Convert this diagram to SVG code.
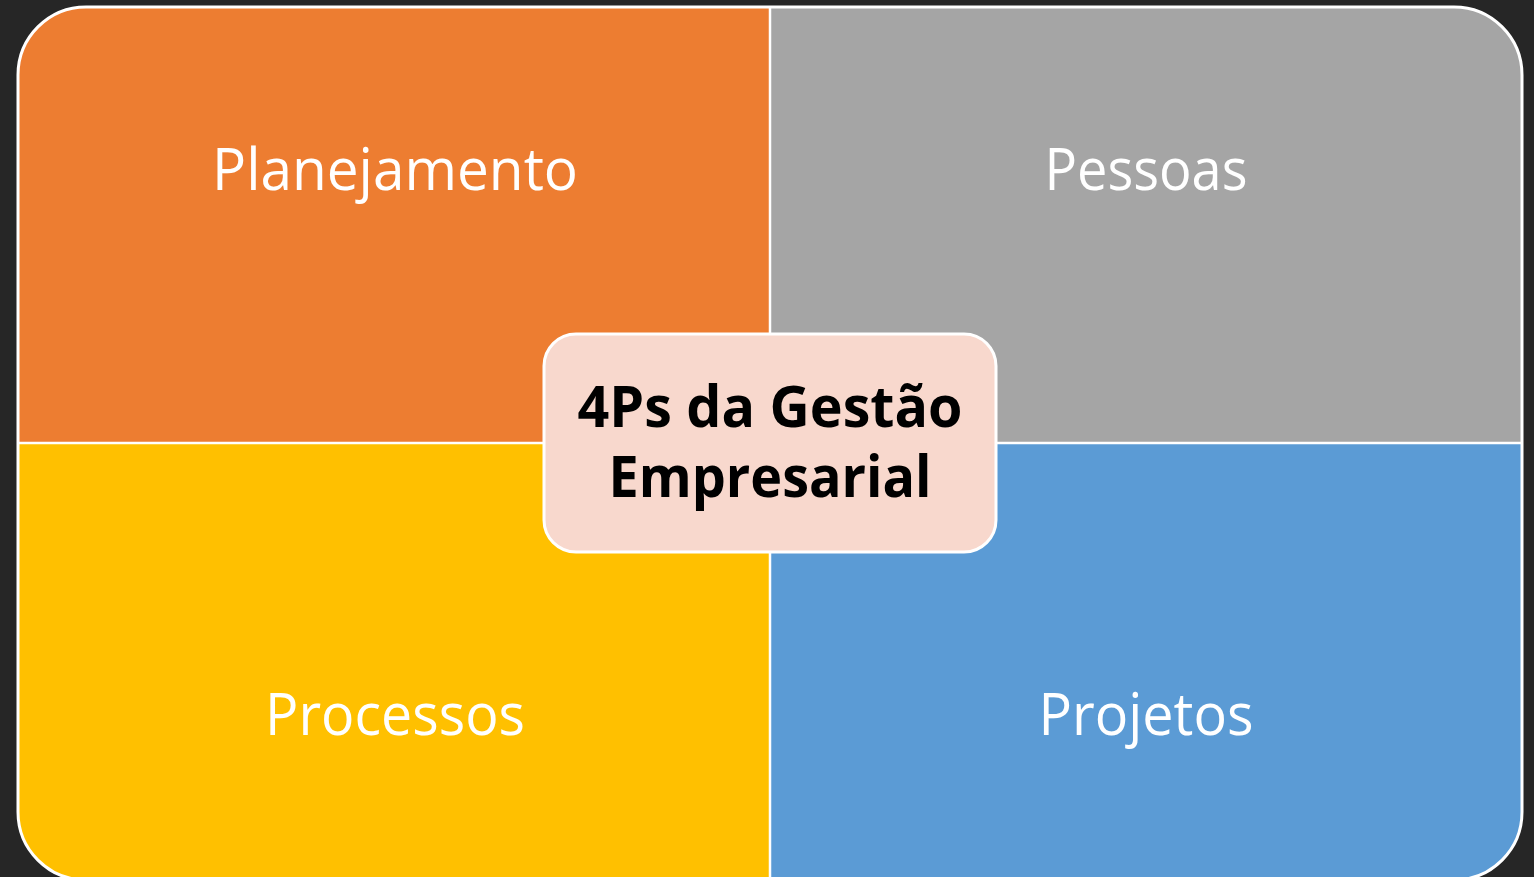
<svg xmlns="http://www.w3.org/2000/svg" width="1534" height="877" viewBox="0 0 1534 877">
  <defs>
    <style>
      .lbl { font-family: "Open Sans", "Liberation Sans", sans-serif; font-size: 59px; fill: #FFFFFF; text-anchor: middle; }
      .ctr { font-family: "Open Sans", "Liberation Sans", sans-serif; font-size: 58px; font-weight: bold; fill: #000000; text-anchor: middle; }
      .div { stroke: #FFFFFF; stroke-width: 2.5; fill: none; }
    </style>
  </defs>
  <rect x="0" y="0" width="1534" height="877" fill="#262626"/>
  <g id="planejamento">
    <path d="M18,443 L18,75 A68,68 0 0 1 86,7 L770,7 L770,443 Z" fill="#ED7D31"/>
    <text class="lbl" x="395" y="190" textLength="366" lengthAdjust="spacingAndGlyphs">Planejamento</text>
  </g>
  <g id="pessoas">
    <path d="M770,7 L1454,7 A68,68 0 0 1 1522,75 L1522,443 L770,443 Z" fill="#A5A5A5"/>
    <text class="lbl" x="1146" y="190" textLength="203" lengthAdjust="spacingAndGlyphs">Pessoas</text>
  </g>
  <g id="processos">
    <path d="M18,443 L770,443 L770,880 L86,880 A68,68 0 0 1 18,812 Z" fill="#FFC000"/>
    <text class="lbl" x="395" y="735" textLength="260" lengthAdjust="spacingAndGlyphs">Processos</text>
  </g>
  <g id="projetos">
    <path d="M770,443 L1522,443 L1522,812 A68,68 0 0 1 1454,880 L770,880 Z" fill="#5B9BD5"/>
    <text class="lbl" x="1146" y="735" textLength="215" lengthAdjust="spacingAndGlyphs">Projetos</text>
  </g>
  <g id="connectors">
    <line class="div" x1="770" y1="7" x2="770" y2="880"/>
    <line class="div" x1="18" y1="443" x2="1522" y2="443"/>
    <rect x="18" y="7" width="1504" height="873" rx="68" ry="68" fill="none" stroke="#FFFFFF" stroke-width="3"/>
  </g>
  <g id="centro">
    <rect x="544" y="334" width="452" height="218" rx="32" ry="32" fill="#F8D8CD" stroke="#FFFFFF" stroke-width="3"/>
    <text class="ctr" x="770" y="427" textLength="385" lengthAdjust="spacingAndGlyphs">4Ps da Gestão</text>
    <text class="ctr" x="770" y="497" textLength="323" lengthAdjust="spacingAndGlyphs">Empresarial</text>
  </g>
</svg>
